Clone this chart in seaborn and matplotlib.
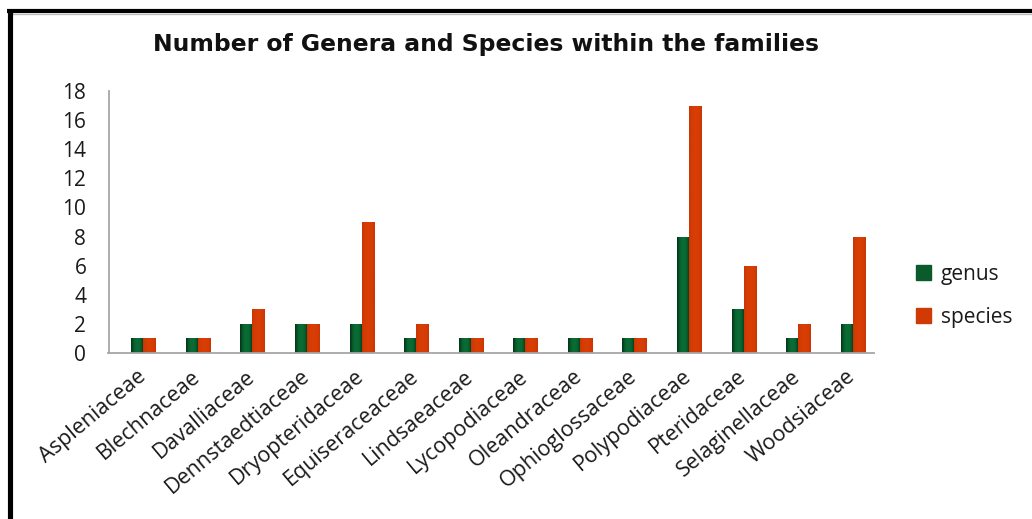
import matplotlib
matplotlib.use("Agg")
import matplotlib.pyplot as plt
from matplotlib.lines import Line2D
from matplotlib.colors import LinearSegmentedColormap
import numpy as np
import seaborn as sns
import pandas as pd

families = ["Aspleniaceae", "Blechnaceae", "Davalliaceae", "Dennstaedtiaceae",
            "Dryopteridaceae", "Equiseraceaceae", "Lindsaeaceae", "Lycopodiaceae",
            "Oleandraceae", "Ophioglossaceae", "Polypodiaceae", "Pteridaceae",
            "Selaginellaceae", "Woodsiaceae"]
genus = [1, 1, 2, 2, 2, 1, 1, 1, 1, 1, 8, 3, 1, 2]
species = [1, 1, 3, 2, 9, 2, 1, 1, 1, 1, 17, 6, 2, 8]
y_ticks = [0, 2, 4, 6, 8, 10, 12, 14, 16, 18]

df = pd.DataFrame({
    "family": families * 2,
    "count": genus + species,
    "group": ["genus"] * len(families) + ["species"] * len(families),
})

sns.set_style("white")
plt.rcParams["font.family"] = ["Open Sans", "DejaVu Sans"]

W, H = 1032, 519
fig = plt.figure(figsize=(W / 100, H / 100), dpi=100)
ax = fig.add_axes([108.5 / W, 1 - 353 / H, (874 - 108.5) / W, (353 - 91) / H])

colors = {"genus": "#0b5a2c", "species": "#d03a04"}
sns.barplot(data=df, x="family", y="count", hue="group", palette=colors,
            width=0.44, gap=0, saturation=1, ax=ax, legend=True,
            linewidth=0, edgecolor="none")

# horizontal shading inside each bar
shades = {
    "genus": LinearSegmentedColormap.from_list(
        "g", ["#033217", "#09632f", "#0b6e35", "#09632f", "#033217"]),
    "species": LinearSegmentedColormap.from_list(
        "s", ["#c83604", "#d63d04", "#d83e05", "#d63d04", "#c83604"]),
}
grad = np.linspace(0, 1, 64).reshape(1, -1)
n = len(families)
for i, patch in enumerate(list(ax.patches)[:2 * n]):
    key = "genus" if i < n else "species"
    x0, y0 = patch.get_x(), patch.get_y()
    w, h = patch.get_width(), patch.get_height()
    if h <= 0:
        continue
    im = ax.imshow(grad, cmap=shades[key], aspect="auto",
                   extent=(x0, x0 + w, y0, y0 + h), zorder=patch.get_zorder() + 0.1,
                   interpolation="bilinear")
    im.set_clip_path(patch)
ax.set_xlim(-0.636, 13.39)
ax.set_ylim(0, 18)

ax.set_yticks(y_ticks)
ax.set_yticklabels([str(t) for t in y_ticks], fontsize=15, color="#1a1a1a")
ax.set_xlabel("")
ax.set_ylabel("")
ax.tick_params(axis="y", length=0, pad=16)
ax.tick_params(axis="x", length=0, pad=15)
for lab in ax.get_xticklabels():
    lab.set_rotation(40)
    lab.set_ha("right")
    lab.set_va("center")
    lab.set_rotation_mode("anchor")
    lab.set_fontsize(15.5)
    lab.set_color("#1a1a1a")

for side in ["top", "right"]:
    ax.spines[side].set_visible(False)
for side in ["left", "bottom"]:
    ax.spines[side].set_color("#a6a6a6")
    ax.spines[side].set_linewidth(1.3)

handles = [plt.Rectangle((0, 0), 1, 1, color=colors["genus"]),
           plt.Rectangle((0, 0), 1, 1, color=colors["species"])]
leg = ax.legend(handles, ["genus", "species"], loc="center left",
                bbox_to_anchor=(1.03, 0.218), frameon=False,
                fontsize=15, handlelength=0.75, handleheight=0.75,
                labelspacing=1.05, handletextpad=0.45)
for t in leg.get_texts():
    t.set_color("#1a1a1a")

fig.text(486 / W, 1 - 45 / H, "Number of Genera and Species within the families",
         ha="center", va="center", fontsize=16.9, fontweight="bold",
         color="#111111", family="DejaVu Sans")

# black frame along the top and left edges, with a faint shadow line
fig.add_artist(Line2D([12 / W, 1], [1 - 14 / H, 1 - 14 / H],
                      transform=fig.transFigure, color="#bdbdbd", lw=1))
fig.add_artist(Line2D([9.8 / W, 9.8 / W], [0, 1 - 9 / H],
                      transform=fig.transFigure, color="black", lw=3.7, solid_capstyle="butt"))
fig.add_artist(Line2D([7.3 / W, 1], [1 - 11.3 / H, 1 - 11.3 / H],
                      transform=fig.transFigure, color="black", lw=3, solid_capstyle="butt"))

fig.savefig("out.png", dpi=100, facecolor="white")
